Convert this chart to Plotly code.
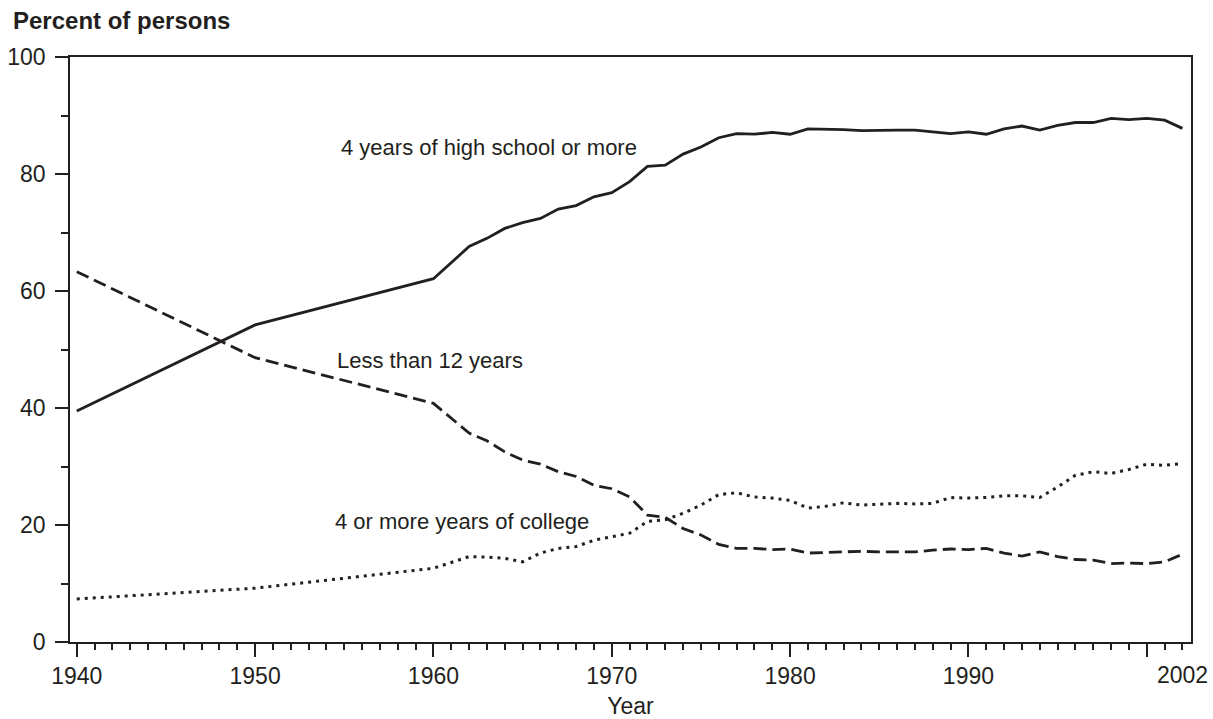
import plotly.graph_objects as go

years = [1940, 1950, 1960,
         1962, 1963, 1964, 1965, 1966, 1967, 1968, 1969, 1970, 1971,
         1972, 1973, 1974, 1975, 1976, 1977, 1978, 1979, 1980, 1981,
         1982, 1983, 1984, 1985, 1986, 1987, 1988, 1989, 1990, 1991,
         1992, 1993, 1994, 1995, 1996, 1997, 1998, 1999, 2000, 2001, 2002]

high_school_or_more = [39.5, 54.2, 62.1,
                       67.6, 69.0, 70.7, 71.7, 72.4, 74.0, 74.6, 76.1, 76.8, 78.7,
                       81.3, 81.5, 83.4, 84.6, 86.2, 86.9, 86.8, 87.1, 86.8, 87.7,
                       87.7, 87.6, 87.4, 87.5, 87.5, 87.5, 87.2, 86.9, 87.2, 86.8,
                       87.7, 88.2, 87.5, 88.3, 88.8, 88.8, 89.5, 89.3, 89.5, 89.2, 87.8]

less_than_12 = [63.3, 48.6, 40.8,
                35.7, 34.4, 32.5, 31.1, 30.4, 29.1, 28.3, 26.8, 26.2, 24.8,
                21.7, 21.3, 19.4, 18.3, 16.7, 16.0, 16.0, 15.8, 15.9, 15.2,
                15.3, 15.5, 15.5, 15.4, 15.4, 15.4, 15.7, 15.9, 15.8, 16.0,
                15.2, 14.7, 15.4, 14.6, 14.1, 14.0, 13.4, 13.5, 13.4, 13.7, 15.0]

college_4_or_more = [7.35, 9.2, 12.6,
                     14.6, 14.5, 14.3, 13.7, 15.2, 16.0, 16.3, 17.4, 18.0, 18.6,
                     20.6, 20.9, 22.0, 23.4, 25.2, 25.5, 24.8, 24.6, 24.2, 22.9,
                     23.2, 23.8, 23.4, 23.6, 23.7, 23.6, 23.7, 24.7, 24.6, 24.7,
                     25.0, 25.0, 24.7, 26.5, 28.5, 29.1, 28.8, 29.5, 30.4, 30.2, 30.5]

x_tick_vals = [1940, 1950, 1960, 1970, 1980, 1990, 2000]
x_tick_text = ["1940", "1950", "1960", "1970", "1980", "1990", ""]
last_year_label = "2002"
y_tick_vals = [0, 20, 40, 60, 80, 100]

INK = "#231f20"
FONT = "Liberation Sans, Arial, Helvetica, sans-serif"

fig = go.Figure()
fig.add_trace(go.Scatter(x=years, y=high_school_or_more, mode="lines",
                         line=dict(color=INK, width=2.8), showlegend=False))
fig.add_trace(go.Scatter(x=years, y=less_than_12, mode="lines",
                         line=dict(color=INK, width=2.8, dash="13px,6px"), showlegend=False))
fig.add_trace(go.Scatter(x=years, y=college_4_or_more, mode="lines",
                         line=dict(color=INK, width=3, dash="3px,5px"), showlegend=False))

fig.update_layout(
    width=1213, height=719,
    margin=dict(l=70, r=22, t=57, b=77),
    paper_bgcolor="white", plot_bgcolor="white",
    font=dict(family=FONT, color=INK, size=23),
    xaxis=dict(
        range=[1939.62, 2002.48], automargin=False,
        tickmode="array", tickvals=x_tick_vals, ticktext=x_tick_text,
        ticks="outside", ticklen=13, tickwidth=1.5, tickcolor=INK,
        minor=dict(tickmode="linear", tick0=1940, dtick=1, ticks="outside",
                   ticklen=6, tickwidth=1.5, tickcolor=INK),
        showline=True, linecolor=INK, linewidth=1.5, mirror=True,
        showgrid=False, zeroline=False,
        tickfont=dict(size=23, color=INK, family=FONT),
        title=dict(text="Year", font=dict(size=23, color=INK, family=FONT), standoff=10),
    ),
    yaxis=dict(
        range=[0, 100], automargin=False,
        tickmode="array", tickvals=y_tick_vals,
        ticks="outside", ticklen=13, tickwidth=1.5, tickcolor=INK,
        minor=dict(tickmode="linear", tick0=0, dtick=10, ticks="outside",
                   ticklen=7, tickwidth=1.5, tickcolor=INK),
        showline=True, linecolor=INK, linewidth=1.5, mirror=True,
        showgrid=False, zeroline=False, ticklabelstandoff=5,
        tickfont=dict(size=23, color=INK, family=FONT),
    ),
    annotations=[
        dict(text="<b>Percent of persons</b>", xref="paper", yref="paper",
             x=-0.053, y=1.063, xanchor="left", yanchor="middle", showarrow=False,
             font=dict(size=24, color=INK, family=FONT)),
        dict(text="4 years of high school or more", xref="x", yref="y",
             x=1954.71, y=84.6, xanchor="left", yanchor="middle", showarrow=False,
             font=dict(size=22, color=INK, family=FONT)),
        dict(text="Less than 12 years", xref="x", yref="y",
             x=1954.49, y=48.2, xanchor="left", yanchor="middle", showarrow=False,
             font=dict(size=22, color=INK, family=FONT)),
        dict(text="4 or more years of college", xref="x", yref="y",
             x=1954.38, y=20.6, xanchor="left", yanchor="middle", showarrow=False,
             font=dict(size=22, color=INK, family=FONT)),
        dict(text=last_year_label, xref="x", yref="paper",
             x=2002, y=-0.0564, xanchor="center", yanchor="middle", showarrow=False,
             font=dict(size=23, color=INK, family=FONT)),
    ],
)

fig.write_html("out.html", config={"displayModeBar": False},
               post_script="document.body.style.margin='0';document.body.style.padding='0';")
